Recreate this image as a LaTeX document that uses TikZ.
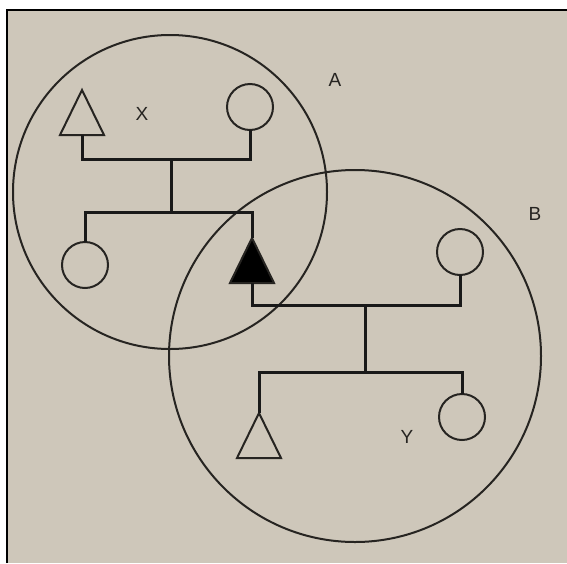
\documentclass[tikz,border=0pt]{standalone}
\usepackage{fontspec}
\setsansfont{Liberation Sans}
\usetikzlibrary{shapes.geometric}
\definecolor{paper}{RGB}{206,199,186}
\definecolor{ink}{RGB}{38,36,33}
\begin{document}
\begin{tikzpicture}[x=1pt,y=-1pt,
  male/.style={draw=ink, line width=2pt, isosceles triangle, isosceles triangle stretches,
    shape border rotate=90, minimum width=44pt, minimum height=45pt, inner sep=0pt, outer sep=0pt},
  female/.style={draw=ink, line width=2pt, circle, minimum size=46pt, inner sep=0pt, outer sep=0pt},
  group/.style={draw=ink, line width=2pt, circle, inner sep=0pt},
  kin/.style={draw=black!90, line width=3pt},
  lbl/.style={font=\sffamily\fontsize{19}{20}\selectfont, text=ink}]
\useasboundingbox (0,0) rectangle (567,563);
\fill[white] (0,0) rectangle (567,563);
\fill[paper] (7,10) rectangle (567,563);
\draw[black, line width=1.5pt] (7,563) -- (7,10) -- (567,10);

% the two groups
\node[group, minimum size=314pt] (grpA) at (170,192) {};
\node[group, minimum size=372pt] (grpB) at (355,356) {};

% people
\node[male, anchor=apex] (x) at (82,90) {};
\node[female] (xw) at (250,107) {};
\node[female] (xs) at (85,265) {};
\node[male, fill=black, anchor=apex] (ego) at (252,238) {};
\node[female] (ew) at (460,252) {};
\node[male, anchor=apex] (ys) at (259,413) {};
\node[female] (yd) at (462,417) {};

\coordinate (mx) at (171,159);
\coordinate (sx) at (171,212);
\coordinate (me) at (365,305);
\coordinate (se) at (365,372);

% lines
\draw[kin] (x.lower side) |- (mx) -| (xw.south);
\draw[kin] (mx) -- (sx);
\draw[kin] (xs.north) |- (sx) -| (ego.apex);
\draw[kin] (ego.lower side) |- (me) -| (ew.south);
\draw[kin] (me) -- (se);
\draw[kin] (ys.apex) |- (se) -| (yd.north);

% labels
\node[lbl] (la) at (335,80) {A};
\node[lbl] (lb) at (535,214) {B};
\node[lbl] (lx) at (142,114) {X};
\node[lbl] (ly) at (407,437) {Y};
\end{tikzpicture}
\end{document}
